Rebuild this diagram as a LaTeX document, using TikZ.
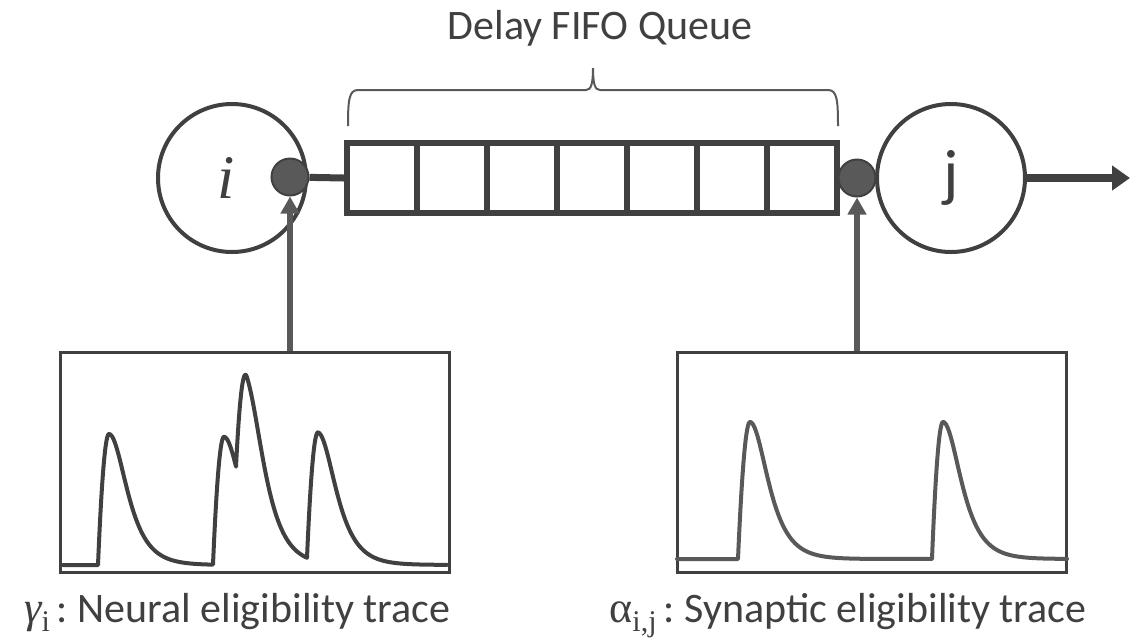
\documentclass[tikz,border=0pt]{standalone}
\usepackage{fontspec}
\setmainfont{Carlito}
\newfontfamily\grk{Liberation Serif}
\usetikzlibrary{arrows.meta}
\definecolor{ink}{HTML}{404040}
\definecolor{inkl}{HTML}{595959}

\begin{document}
\begin{tikzpicture}[
  x=0.5pt, y=-0.5pt,
  declare function={
    % one spike: steep parabolic rise over \qp, then a sech-shaped decay
    spk(\qx,\qt,\qp)=(\qx>=\qt)*((\qx-\qt-\qp<0)*(1-((\qx-\qt-\qp)/\qp)^2)
      +(\qx-\qt-\qp>=0)*1/cosh(min(max(\qx-\qt-\qp,0)/15.8,9)));
  },
  neuron/.style={circle, draw=ink, line width=2pt, minimum size=74pt,
    inner sep=0pt, text=ink},
  synapse/.style={circle, draw=ink, fill=inkl, line width=1pt,
    minimum size=18.5pt, inner sep=0pt},
  cell/.style={rectangle, draw=ink, line width=3pt, minimum width=35pt,
    minimum height=35pt, inner sep=0pt},
  panel/.style={rectangle, draw=ink, line width=1.5pt, minimum width=194.5pt,
    minimum height=110pt, inner sep=0pt},
  trace/.style={line width=2pt, line join=round, line cap=round},
  feed/.style={inkl, line width=3.3pt, -{Triangle[length=8.5pt, width=9pt]}},
  outarrow/.style={ink, line width=4pt, -{Triangle[length=9pt, width=12pt]}},
  brace/.style={inkl, line width=1pt},
  label/.style={font=\fontsize{21}{25}\selectfont, text=ink, inner sep=0pt},
  sub/.style={}
]
\useasboundingbox (0,0) rectangle (1130,639);

% neurons
\node[neuron, font=\fontsize{31}{32}\selectfont\grk\itshape] (ni) at (232,178)
  {\hspace*{-6pt}i};
\node[neuron, font=\fontsize{32}{33}\selectfont] (nj) at (951,178) {j};

% delay queue of seven slots
\foreach \k in {1,...,7}
  \node[cell] (c\k) at ({312+70*\k},178) {};

% synapse terminals
\node[synapse] (si) at (290,177) {};
\node[synapse] (sj) at (857,178) {};
\draw[ink, line width=3.5pt] (si) -- (c1.west);

% output of neuron j
\coordinate (out) at (1130,178);
\draw[outarrow] (nj.east) -- (out);

% brace over the queue
\draw[brace] (348,126) .. controls (348,100) and (349,90) .. (358,90)
  -- (586,90) .. controls (591,90) and (593,84) .. (593,68)
  .. controls (593,84) and (595,90) .. (600,90)
  -- (828,90) .. controls (837,90) and (838,100) .. (838,126);
\node[label, anchor=base] (title) at (600,39) {Delay FIFO Queue};

% trace panels
\node[panel] (pl) at (254.5,462) {};
\node[panel] (pr) at (871.5,462.5) {};

\draw[trace, ink] plot[domain=63:447, samples=769, variable=\x]
  (\x, {565-131*spk(\x,98,11)-128*spk(\x,213,11)-131*spk(\x,236,11)-129*spk(\x,307,11)});
\draw[trace, inkl] plot[domain=677:1067, samples=781, variable=\x]
  (\x, {559-137*spk(\x,738,12)-137*spk(\x,932,11)});

% traces feed the synapses
\draw[feed] (si |- pl.north) -- (si.south);
\draw[feed] (sj |- pr.north) -- (sj.south);

% captions
\node[label, anchor=base east] (lg) at (451,622)
  {{\fontsize{22}{25}\selectfont\grk\itshape γ}\raisebox{-4.5pt}{\fontsize{15}{15}\selectfont\grk i}\,:\ Neural eligibility trace};
\node[label, anchor=base west] (la) at (609,622)
  {{\fontsize{22}{25}\selectfont\grk α}\raisebox{-4.5pt}{\fontsize{15}{15}\selectfont\grk i,j}\,:\ Synaptic eligibility trace};
\end{tikzpicture}
\end{document}
